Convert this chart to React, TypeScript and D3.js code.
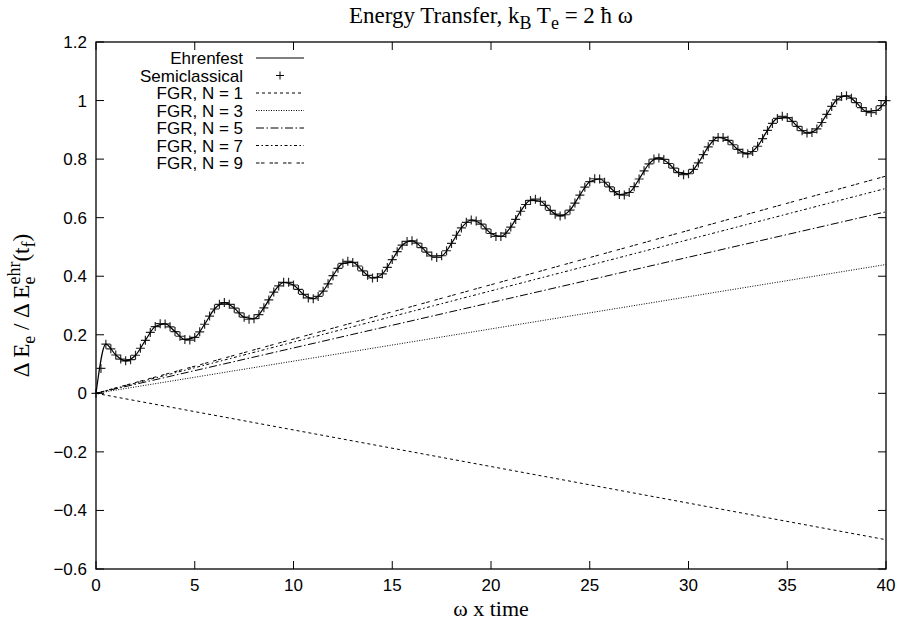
import * as d3 from 'd3';
import React, { useEffect, useRef } from 'react';

// semiclassical points, sampled every 0.25 in omega x time (0 .. 40)
const semiStep = 0.25;
const semiclassical = [
  0.000, 0.085, 0.168, 0.152, 0.131, 0.117, 0.111, 0.115, 0.130, 0.154,
  0.181, 0.208, 0.228, 0.238, 0.237, 0.227, 0.211, 0.195, 0.184, 0.182,
  0.191, 0.210, 0.236, 0.264, 0.288, 0.304, 0.310, 0.304, 0.291, 0.275,
  0.260, 0.253, 0.255, 0.269, 0.292, 0.319, 0.346, 0.367, 0.379, 0.379,
  0.370, 0.355, 0.338, 0.326, 0.323, 0.331, 0.349, 0.374, 0.402, 0.427,
  0.444, 0.451, 0.447, 0.435, 0.418, 0.403, 0.394, 0.396, 0.408, 0.430,
  0.457, 0.484, 0.506, 0.519, 0.521, 0.513, 0.498, 0.482, 0.469, 0.464,
  0.470, 0.487, 0.512, 0.540, 0.565, 0.584, 0.592, 0.589, 0.578, 0.562,
  0.546, 0.536, 0.536, 0.547, 0.568, 0.594, 0.622, 0.645, 0.659, 0.663,
  0.656, 0.642, 0.625, 0.612, 0.606, 0.610, 0.626, 0.650, 0.677, 0.704,
  0.723, 0.733, 0.732, 0.721, 0.705, 0.689, 0.679, 0.677, 0.686, 0.706,
  0.732, 0.760, 0.784, 0.800, 0.804, 0.799, 0.785, 0.769, 0.754, 0.747,
  0.750, 0.765, 0.787, 0.815, 0.842, 0.863, 0.874, 0.874, 0.864, 0.849,
  0.833, 0.821, 0.818, 0.826, 0.844, 0.870, 0.898, 0.922, 0.939, 0.946,
  0.942, 0.929, 0.912, 0.897, 0.889, 0.891, 0.903, 0.925, 0.953, 0.980,
  1.002, 1.014, 1.016, 1.008, 0.993, 0.976, 0.963, 0.959, 0.966, 0.983,
  1.000,
];

// Ehrenfest curve, sampled every 0.5
const ehrStep = 0.5;
const ehrenfest = [
  0.000, 0.168, 0.131, 0.111, 0.130, 0.181, 0.228, 0.237, 0.211, 0.184,
  0.191, 0.236, 0.288, 0.310, 0.291, 0.260, 0.255, 0.292, 0.346, 0.379,
  0.370, 0.338, 0.323, 0.349, 0.402, 0.444, 0.447, 0.418, 0.394, 0.408,
  0.457, 0.506, 0.521, 0.498, 0.469, 0.470, 0.512, 0.565, 0.592, 0.578,
  0.546, 0.536, 0.568, 0.622, 0.659, 0.656, 0.625, 0.606, 0.626, 0.677,
  0.723, 0.732, 0.705, 0.679, 0.686, 0.732, 0.784, 0.804, 0.785, 0.754,
  0.750, 0.787, 0.842, 0.874, 0.864, 0.833, 0.818, 0.844, 0.898, 0.939,
  0.942, 0.912, 0.889, 0.903, 0.953, 1.002, 1.016, 0.993, 0.963, 0.966,
  1.000,
];

// FGR straight lines, start and end points
const fgrTimes = [0, 40];
const fgrN1 = [0, -0.5];
const fgrN3 = [0, 0.44];
const fgrN5 = [0, 0.62];
const fgrN7 = [0, 0.70];
const fgrN9 = [0, 0.742];

const xTicks = [0, 5, 10, 15, 20, 25, 30, 35, 40];
const yTicks = [-0.6, -0.4, -0.2, 0, 0.2, 0.4, 0.6, 0.8, 1, 1.2];

const W = 897;
const H = 633;
const sans = '"Liberation Sans", Arial, sans-serif';
const serif = '"Liberation Serif", "Times New Roman", serif';

export default function App() {
  const ref = useRef<SVGSVGElement>(null);

  useEffect(() => {
    if (!ref.current) return;
    const svg = d3.select(ref.current);
    svg.selectAll('*').remove();

    const left = 96, right = 886, top = 42, bottom = 569;
    const x = d3.scaleLinear().domain([0, 40]).range([left, right]);
    const y = d3.scaleLinear().domain([-0.6, 1.2]).range([bottom, top]);
    const tickLen = 8;

    const g = svg.append('g');

    // ticks (mirrored on all sides, pointing inward)
    xTicks.forEach(t => {
      g.append('line').attr('x1', x(t)).attr('x2', x(t)).attr('y1', bottom).attr('y2', bottom - tickLen)
        .attr('stroke', '#000');
      g.append('line').attr('x1', x(t)).attr('x2', x(t)).attr('y1', top).attr('y2', top + tickLen)
        .attr('stroke', '#000');
      g.append('text').attr('x', x(t)).attr('y', bottom + 22).attr('text-anchor', 'middle')
        .style('font-family', sans).style('font-size', '17px').text(String(t));
    });
    yTicks.forEach(v => {
      g.append('line').attr('x1', left).attr('x2', left + tickLen).attr('y1', y(v)).attr('y2', y(v))
        .attr('stroke', '#000');
      g.append('line').attr('x1', right).attr('x2', right - tickLen).attr('y1', y(v)).attr('y2', y(v))
        .attr('stroke', '#000');
      g.append('text').attr('x', left - 9).attr('y', y(v) + 6).attr('text-anchor', 'end')
        .style('font-family', sans).style('font-size', '17px').text(d3.format('~g')(v));
    });

    g.append('rect').attr('x', left).attr('y', top).attr('width', right - left).attr('height', bottom - top)
      .attr('fill', 'none').attr('stroke', '#000').attr('stroke-width', 1.3);

    // FGR lines
    const fgr = [
      { name: 'FGR, N = 1', vals: fgrN1, dash: '3,3' },
      { name: 'FGR, N = 3', vals: fgrN3, dash: '1,1.5' },
      { name: 'FGR, N = 5', vals: fgrN5, dash: '8,2.5,1.5,2.5' },
      { name: 'FGR, N = 7', vals: fgrN7, dash: '3,2.5,1.5,2.5' },
      { name: 'FGR, N = 9', vals: fgrN9, dash: '3.5,1.5,3.5,5' },
    ];
    const line2 = d3.line<number>().x((_, i) => x(fgrTimes[i])).y(d => y(d));
    fgr.forEach(s => {
      g.append('path').attr('d', line2(s.vals)).attr('fill', 'none').attr('stroke', '#000')
        .attr('stroke-width', 1).attr('stroke-dasharray', s.dash);
    });

    // Ehrenfest
    const ehrLine = d3.line<number>().x((_, i) => x(i * ehrStep)).y(d => y(d)).curve(d3.curveMonotoneX);
    g.append('path').attr('d', ehrLine(ehrenfest)).attr('fill', 'none').attr('stroke', '#000')
      .attr('stroke-width', 1.2);

    // Semiclassical markers
    const plus = (px: number, py: number, r = 4.5) => `M${px - r},${py}H${px + r}M${px},${py - r}V${py + r}`;
    g.append('path')
      .attr('d', semiclassical.map((v, i) => plus(x(i * semiStep), y(v))).join(''))
      .attr('fill', 'none').attr('stroke', '#000').attr('stroke-width', 1.2).attr('stroke-opacity', 0.85);

    // legend
    const legend = [
      { name: 'Ehrenfest', dash: null as string | null, marker: false },
      { name: 'Semiclassical', dash: null, marker: true },
      ...fgr.map(s => ({ name: s.name, dash: s.dash, marker: false })),
    ];
    legend.forEach((d, i) => {
      const ry = 58 + i * 17.5;
      g.append('text').attr('x', 243).attr('y', ry + 6).attr('text-anchor', 'end')
        .style('font-family', sans).style('font-size', '17px').text(d.name);
      if (d.marker) {
        g.append('path').attr('d', plus(280, ry, 4)).attr('stroke', '#000').attr('stroke-width', 1);
      } else {
        const l = g.append('line').attr('x1', 256).attr('x2', 304).attr('y1', ry).attr('y2', ry)
          .attr('stroke', '#000').attr('stroke-width', 1);
        if (d.dash) l.attr('stroke-dasharray', d.dash);
      }
    });

    // title
    const title = g.append('text').attr('x', (left + right) / 2).attr('y', 23).attr('text-anchor', 'middle')
      .style('font-family', serif).style('font-size', '23px');
    title.append('tspan').text('Energy Transfer, k');
    title.append('tspan').attr('dy', 6).style('font-size', '18px').text('B');
    title.append('tspan').attr('dy', -6).text(' T');
    title.append('tspan').attr('dy', 6).style('font-size', '18px').text('e');
    title.append('tspan').attr('dy', -6).text(' = 2 \u0127 \u03c9');

    // x label
    g.append('text').attr('x', (left + right) / 2).attr('y', 616).attr('text-anchor', 'middle')
      .style('font-family', serif).style('font-size', '22px').text('\u03c9 x time');

    // y label
    const yl = g.append('text').attr('transform', `translate(29,${(top + bottom) / 2}) rotate(-90)`)
      .attr('text-anchor', 'middle').style('font-family', serif).style('font-size', '23px');
    yl.append('tspan').text('\u0394 E');
    yl.append('tspan').attr('dy', 6).style('font-size', '18px').text('e');
    yl.append('tspan').attr('dy', -6).text(' / \u0394 E');
    yl.append('tspan').attr('dy', 6).style('font-size', '18px').text('e');
    yl.append('tspan').attr('dx', -8).attr('dy', -15).style('font-size', '18px').text('ehr');
    yl.append('tspan').attr('dy', 9).text('(t');
    yl.append('tspan').attr('dy', 6).style('font-size', '18px').text('f');
    yl.append('tspan').attr('dy', -6).text(')');
  }, []);

  return (
    <svg ref={ref} width={W} height={H}
      style={{ position: 'absolute', left: 0, top: 0, background: '#fff' }} />
  );
}
